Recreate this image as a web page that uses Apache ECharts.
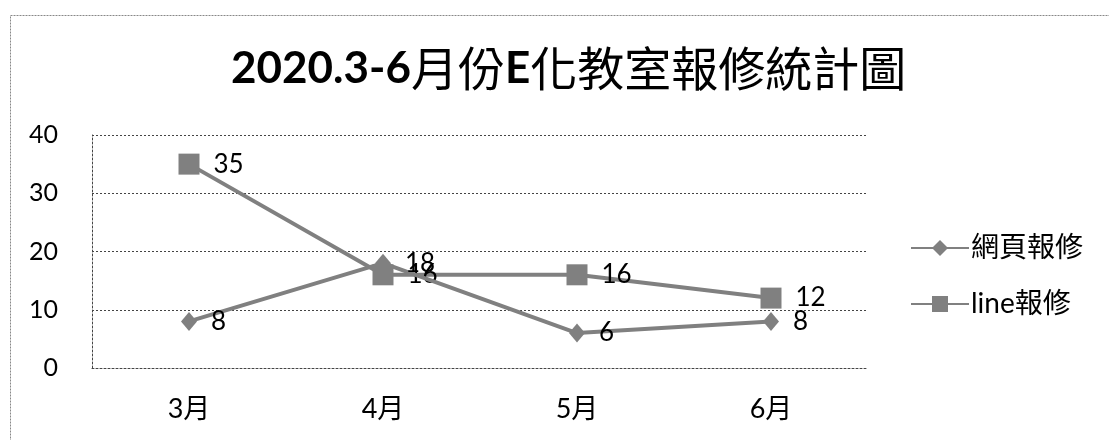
<!DOCTYPE html>
<html>
<head>
<meta charset="utf-8">
<script src="https://cdn.jsdelivr.net/npm/echarts@6/dist/echarts.min.js"></script>
<style>
html,body{margin:0;padding:0;background:#fff;}
#c{width:1109px;height:440px;}
</style>
</head>
<body>
<div id="c"></div>
<script>
const categories = ['3月', '4月', '5月', '6月'];
const webRepair = [8, 18, 6, 8];
const lineRepair = [35, 16, 16, 12];
const seriesNames = ['網頁報修', 'line報修'];
const yTicks = { min: 0, max: 40, interval: 10 };

const latin = 'Lato, "Noto Sans CJK TC", sans-serif';
const cjk = '"Noto Sans CJK TC", sans-serif';
const lineColor = '#808080';

const chart = echarts.init(document.getElementById('c'));
chart.setOption({
  animation: false,
  backgroundColor: '#fff',
  graphic: [{
    type: 'rect',
    shape: { x: 10.5, y: 15.5, width: 1120, height: 440 },
    style: { fill: 'none', stroke: '#888', lineWidth: 1, lineDash: [2, 1] },
    silent: true, z: -1
  }],
  title: {
    text: '{a|2020.3-6}{b|月份}{a|E}{b|化教室報修統計圖}',
    left: 226,
    top: 40,
    textStyle: {
      rich: {
        a: { fontFamily: latin, fontWeight: 'bold', fontSize: 44, color: '#000' },
        b: { fontFamily: cjk, fontWeight: 'normal', fontSize: 47, color: '#000' }
      }
    }
  },
  legend: {
    orient: 'vertical',
    left: 905,
    top: 228,
    itemWidth: 58,
    itemHeight: 20,
    itemGap: 26,
    data: seriesNames,
    textStyle: { fontFamily: latin, fontSize: 28, color: '#000', lineHeight: 30, padding: [0, 0, 0, -3] }
  },
  grid: { left: 92, right: 241, top: 135, bottom: 72, containLabel: false },
  xAxis: {
    type: 'category',
    data: categories,
    boundaryGap: true,
    axisLine: { show: true, lineStyle: { color: '#444', type: [2, 2], width: 1 } },
    axisTick: { show: false },
    axisLabel: { fontFamily: latin, fontSize: 27, color: '#000', margin: 28 }
  },
  yAxis: {
    type: 'value',
    min: yTicks.min, max: yTicks.max, interval: yTicks.interval,
    axisLine: { show: true, lineStyle: { color: '#444', type: [2, 2], width: 1 } },
    axisTick: { show: false },
    axisLabel: { fontFamily: latin, fontSize: 25, color: '#000', margin: 34 },
    splitLine: { show: true, lineStyle: { color: '#444', type: [2, 2], width: 1 } }
  },
  series: [
    {
      name: seriesNames[0],
      type: 'line',
      data: webRepair,
      symbol: 'diamond',
      symbolSize: [16, 19],
      itemStyle: { color: lineColor },
      lineStyle: { color: lineColor, width: 4 },
      label: { show: true, position: 'right', distance: 14, fontFamily: latin, fontSize: 26, color: '#000' },
      z: 3
    },
    {
      name: seriesNames[1],
      type: 'line',
      data: lineRepair,
      symbol: 'rect',
      symbolSize: 21,
      itemStyle: { color: lineColor },
      lineStyle: { color: lineColor, width: 4 },
      label: { show: true, position: 'right', distance: 14, fontFamily: latin, fontSize: 26, color: '#000' },
      z: 2
    }
  ]
});
</script>
</body>
</html>
